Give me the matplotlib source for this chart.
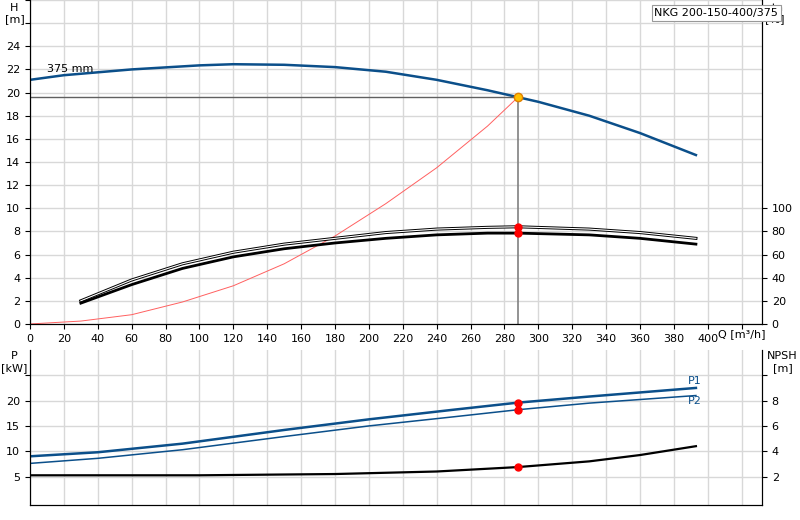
import matplotlib
matplotlib.use("Agg")
import matplotlib.pyplot as plt
import numpy as np

q_h = [0, 20, 60, 100, 120, 150, 180, 210, 240, 270, 288, 300, 330, 360, 393]
h = [21.1, 21.5, 22.0, 22.35, 22.45, 22.4, 22.2, 21.8, 21.1, 20.2, 19.6, 19.2, 18.0, 16.5, 14.6]
q_sys = [0, 30, 60, 90, 120, 150, 180, 210, 240, 270, 288]
h_sys = [0, 0.25, 0.8, 1.9, 3.3, 5.2, 7.6, 10.4, 13.5, 17.1, 19.6]
q_eta = [30, 60, 90, 120, 150, 180, 210, 240, 270, 288, 330, 360, 393]
eta1 = [20, 38, 52, 62, 69, 74, 79, 82, 83.5, 84, 82, 79, 74]
eta2 = [18, 34, 48, 58, 65, 70, 74, 77, 78.5, 78.5, 77, 74, 69]
q_p = [0, 40, 90, 150, 200, 250, 288, 330, 393]
p1 = [9.0, 9.8, 11.5, 14.2, 16.3, 18.2, 19.6, 20.8, 22.5]
p2 = [7.6, 8.6, 10.3, 12.9, 15.0, 16.8, 18.2, 19.5, 21.0]
q_npsh = [0, 100, 180, 240, 288, 330, 360, 393]
npsh = [2.1, 2.1, 2.2, 2.4, 2.75, 3.2, 3.7, 4.4]
q_op, h_op = 288, 19.6

blue = "#0b4f8a"
grid = "#d8d8d8"
fig = plt.figure(figsize=(8, 5.2), dpi=100)
ax = fig.add_axes([0.0375, 0.377, 0.915, 0.623])
ax.set_xlim(0, 432); ax.set_ylim(0, 28)
ax.set_xticks(np.arange(0, 421, 20))
ax.set_xticklabels([str(v) if v <= 400 else "" for v in range(0, 421, 20)], fontsize=8)
ax.set_yticks(np.arange(0, 29, 2))
ax.set_yticklabels([str(v) if v <= 24 else "" for v in range(0, 29, 2)], fontsize=8)
ax.grid(True, color=grid, lw=1)
ax.spines["top"].set_visible(False)
ax.plot(q_h, h, color=blue, lw=1.8)
ax.plot(q_sys, h_sys, color="#ff6060", lw=0.7)
ax.plot([0, q_op], [h_op, h_op], color="#606060", lw=1)
ax.plot([q_op, q_op], [0, h_op], color="#808080", lw=1.2)
ax.text(10, 21.8, "375 mm", fontsize=8)
ax.plot(q_op, h_op, "o", ms=6, mfc="#ffc000", mec="#e08000")
ax.text(406, -0.9, "Q [m³/h]", fontsize=8, va="center")
ax2 = ax.twinx()
ax2.set_ylim(0, 280)
ax2.set_yticks(np.arange(0, 101, 20))
ax2.tick_params(labelsize=8)
ax2.plot(q_eta, eta1, color="black", lw=2.2)
ax2.plot(q_eta, eta1, color="white", lw=0.8)
ax2.plot(q_eta, eta2, color="black", lw=2)
ax2.plot([q_op, q_op], [84, 78.5], "o", color="red", ms=5)
ax2.spines["top"].set_visible(False)
fig.text(0.018, 0.995, "H\n[m]", fontsize=8, ha="center", va="top")
fig.text(0.968, 0.995, "eta\n[%]", fontsize=8, ha="center", va="top")
fig.text(0.818, 0.985, "NKG 200-150-400/375", fontsize=8, va="top",
         bbox=dict(fc="white", ec="#999999", lw=0.8, pad=2))

bx = fig.add_axes([0.0375, 0.029, 0.915, 0.298])
bx.set_xlim(0, 432); bx.set_ylim(-0.6, 30)
bx.set_xticks(np.arange(0, 421, 20)); bx.set_xticklabels([])
bx.tick_params(axis="x", length=0)
bx.set_yticks([5, 10, 15, 20, 25]); bx.set_yticklabels(["5", "10", "15", "20", ""], fontsize=8)
bx.grid(True, color=grid, lw=1)
bx.spines["top"].set_visible(False)
bx.plot(q_p, p1, color=blue, lw=1.8)
bx.plot(q_p, p2, color=blue, lw=1.1)
bx.plot([q_op, q_op], [19.6, 18.2], "o", color="red", ms=5)
bx.text(388, 23.3, "P1", color=blue, fontsize=8)
bx.text(388, 19.3, "P2", color=blue, fontsize=8)
bx2 = bx.twinx()
bx2.set_ylim(-0.24, 12)
bx2.set_yticks([2, 4, 6, 8, 10]); bx2.set_yticklabels(["2", "4", "6", "8", ""], fontsize=8)
bx2.spines["top"].set_visible(False)
bx2.plot(q_npsh, npsh, color="black", lw=1.6)
bx2.plot(q_op, 2.75, "o", color="red", ms=5)
fig.text(0.018, 0.325, "P\n[kW]", fontsize=8, ha="center", va="top")
fig.text(0.978, 0.325, "NPSH\n[m]", fontsize=8, ha="center", va="top")
fig.savefig("out.png", dpi=100)
